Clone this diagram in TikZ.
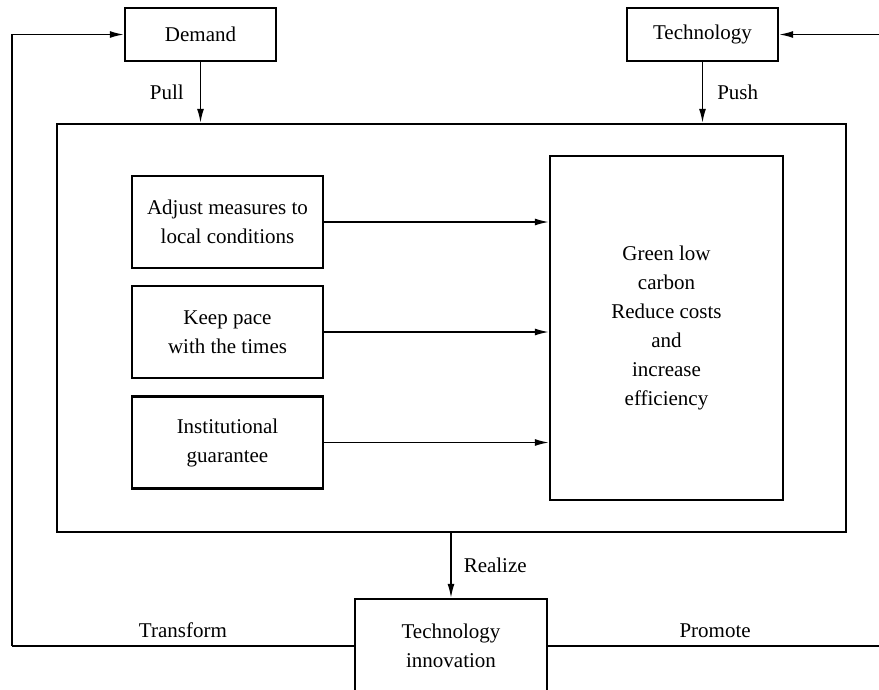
\documentclass[tikz,border=0pt]{standalone}
\usepackage{fontspec}
\setmainfont{Liberation Serif}
\usetikzlibrary{arrows.meta}

\tikzset{
  box/.style={draw, line width=2.4pt, inner sep=0pt, align=center},
  conn/.style={line width=1.5pt},
  arr/.style={conn, -{Latex[length=14pt,width=7pt]}},
  lbl/.style={inner sep=0pt}
}

\begin{document}
\begin{tikzpicture}[x=1pt, y=-1pt, font=\fontsize{21}{29}\selectfont]
        \useasboundingbox (0,0) rectangle (879,689);

        % top boxes
        \node[box, minimum width=151pt, minimum height=53pt] (demand) at (200.5,34.5) {Demand};
        \node[box, minimum width=151pt, minimum height=53pt] (tech) at (702.5,34.5) {Technology};

        % outer frame and its content
        \node[box, minimum width=789pt, minimum height=408pt] (frame) at (451.5,328) {};
        \node[box, minimum width=191pt, minimum height=92pt] (adjust) at (227.5,222) {Adjust measures to\\local conditions};
        \node[box, minimum width=191pt, minimum height=92pt] (keep) at (227.5,332) {Keep pace\\with the times};
        \node[box, minimum width=191pt, minimum height=92pt] (inst) at (227.5,442.5) {Institutional\\guarantee};
        \node[box, minimum width=233pt, minimum height=344pt] (goal) at (666.5,328) {Green low\\carbon\\Reduce costs\\and\\increase\\efficiency};

        % bottom box
        \node[box, minimum width=192pt, minimum height=94pt] (innov) at (451,646) {Technology\\innovation};

        % connectors
        \draw[arr] (demand.south) -- (demand.south |- frame.north) node[lbl, midway, left=16pt] {Pull};
        \draw[arr] (tech.south) -- (tech.south |- frame.north) node[lbl, midway, right=14pt] {Push};
        \draw[arr] (adjust.east) -- (adjust.east -| goal.west);
        \draw[arr] (keep.east) -- (keep.east -| goal.west);
        \draw[arr] (inst.east) -- (inst.east -| goal.west);
        \draw[arr] (innov.north |- frame.south) -- (innov.north) node[lbl, midway, right=12pt] {Realize};

        % feedback loops
        \coordinate (lbend) at (12,646);
        \coordinate (rbend) at (882,646);
        \draw[conn] (innov.west) -- (lbend) node[lbl, midway, above=8pt] {Transform};
        \draw[arr] (lbend) |- (demand.west);
        \draw[conn] (innov.east) -- (rbend) node[lbl, midway, above=8pt] {Promote};
        \draw[arr] (rbend) |- (tech.east);
\end{tikzpicture}
\end{document}
